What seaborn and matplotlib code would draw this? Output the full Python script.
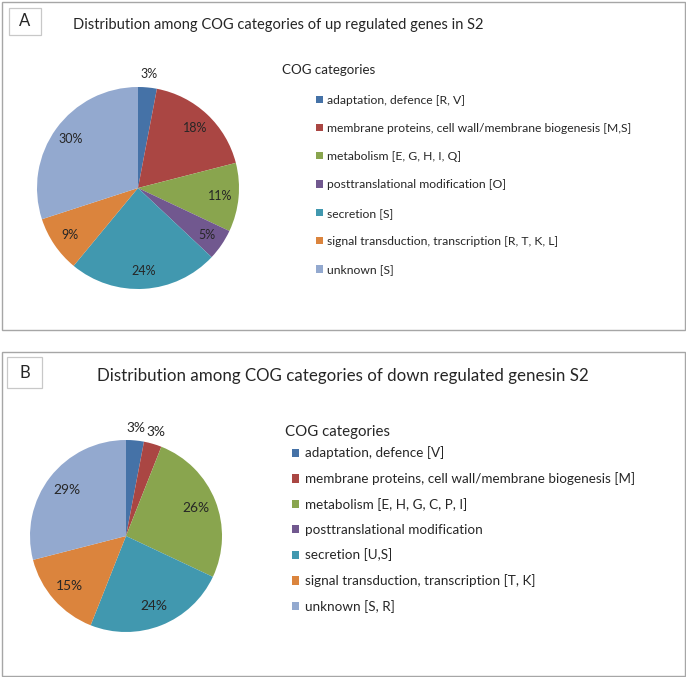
import matplotlib
matplotlib.use("Agg")
import matplotlib.pyplot as plt
from matplotlib.patches import Rectangle
import numpy as np
import seaborn as sns

sns.set_theme(style="white")
plt.rcParams['font.family'] = ['Lato', 'DejaVu Sans']

# ---------------- data ----------------
colors_hex = ['#4572A7', '#AA4643', '#89A54E', '#71588F', '#4198AF', '#DB843D', '#93A9CF']

title_a = "Distribution among COG categories of up regulated genes in S2"
labels_a = ["adaptation, defence [R, V]",
            "membrane proteins, cell wall/membrane biogenesis [M,S]",
            "metabolism [E, G, H, I, Q]",
            "posttranslational modification [O]",
            "secretion [S]",
            "signal transduction, transcription [R, T, K, L]",
            "unknown [S]"]
values_a = [3, 18, 11, 5, 24, 9, 30]

title_b = "Distribution among COG categories of down regulated genesin S2"
labels_b = ["adaptation, defence [V]",
            "membrane proteins, cell wall/membrane biogenesis [M]",
            "metabolism [E, H, G, C, P, I]",
            "posttranslational modification",
            "secretion [U,S]",
            "signal transduction, transcription [T, K]",
            "unknown [S, R]"]
values_b = [3, 3, 26, 0, 24, 15, 29]

legend_title = "COG categories"

# ---------------- figure ----------------
W, H = 686, 677
fig = plt.figure(figsize=(W / 100, H / 100), dpi=100)
fig.patch.set_facecolor('white')
palette = sns.color_palette(colors_hex)


def fx(x):
    return x / W


def fy(y):
    return 1 - y / H


def frame(x0, y0, x1, y1, color, lw):
    fig.patches.append(Rectangle((fx(x0), fy(y1)), fx(x1) - fx(x0), fy(y0) - fy(y1),
                                 transform=fig.transFigure, fill=False,
                                 edgecolor=color, linewidth=lw))


def panel(top, bottom, letter, letter_box, title, title_xy, title_fs,
          values, labels, center, radius, inner_dist, lab_fs,
          leg_title_xy, leg_title_fs, leg_xy, leg_fs, leg_spacing):
    frame(1.5, top, 684.5, bottom, '#a6a6a6', 1.0)
    lx0, ly0, lx1, ly1 = letter_box
    frame(lx0, ly0, lx1, ly1, '#c8c8c8', 0.9)
    fig.text(fx((lx0 + lx1) / 2), fy((ly0 + ly1) / 2), letter, ha='center', va='center',
             fontsize=12, color='#262626')
    fig.text(fx(title_xy[0]), fy(title_xy[1]), title, ha='left', va='center',
             fontsize=title_fs, color='#262626')

    cx, cy = center
    ax = fig.add_axes([fx(cx - radius), fy(cy + radius), 2 * radius / W, 2 * radius / H])
    total = sum(values)
    wedges, texts, autotexts = ax.pie(
        values, colors=palette, startangle=90, counterclock=False,
        autopct=lambda p: f"{p:.0f}%" if p > 0.5 else "",
        pctdistance=inner_dist, wedgeprops=dict(linewidth=0),
        textprops=dict(fontsize=lab_fs, color='#262626'))
    for w, t, v in zip(wedges, autotexts, values):
        if 0 < v / total < 0.04:
            ang = np.deg2rad((w.theta1 + w.theta2) / 2)
            t.set_position((1.13 * np.cos(ang), 1.13 * np.sin(ang)))
    ax.set_xlim(-1, 1)
    ax.set_ylim(-1, 1)
    ax.set_aspect('equal')
    ax.axis('off')

    fig.text(fx(leg_title_xy[0]), fy(leg_title_xy[1]), legend_title, ha='left', va='center',
             fontsize=leg_title_fs, color='#262626')
    fig.legend(wedges, labels, loc='upper left',
               bbox_to_anchor=(fx(leg_xy[0]), fy(leg_xy[1])),
               frameon=False, fontsize=leg_fs, handlelength=0.55, handleheight=0.55,
               handletextpad=0.4, labelspacing=leg_spacing, borderpad=0,
               borderaxespad=0, labelcolor='#262626')


panel(1.5, 329.5, "A", (9, 8, 41, 35), title_a, (73, 25), 10.5,
      values_a, labels_a, (138, 188), 101, 0.82, 9.0,
      (282, 70), 9.6, (316, 94.5), 8.7, 1.43)

panel(351.5, 675.5, "B", (7, 357, 42, 388), title_b, (97, 376), 12.2,
      values_b, labels_b, (126, 536), 96, 0.78, 9.9,
      (285, 432), 10.8, (292, 446.5), 9.7, 0.95)

fig.savefig("out.png", dpi=100, facecolor='white')
